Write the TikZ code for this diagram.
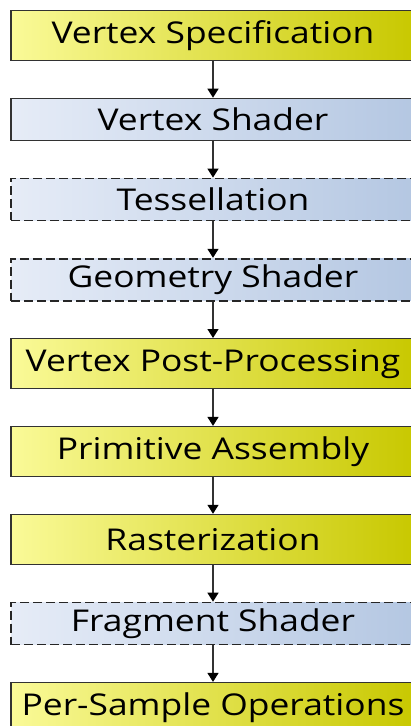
\documentclass[tikz,border=0pt]{standalone}
\usepackage{fontspec}
\setmainfont[FakeStretch=1.18]{Open Sans}
\usetikzlibrary{positioning,arrows.meta}
\definecolor{yelL}{RGB}{250,250,152}
\definecolor{yelR}{RGB}{200,200,0}
\definecolor{bluL}{RGB}{230,236,247}
\definecolor{bluR}{RGB}{180,199,226}
\definecolor{edge}{RGB}{50,50,50}

\begin{document}
\begin{tikzpicture}[x=1pt,y=1pt,
		stage/.style={draw=edge, line width=1.4pt, minimum width=404pt, inner sep=0pt,
			font=\fontsize{30}{34}\selectfont},
		fixed/.style={stage, minimum height=50pt, left color=yelL, right color=yelR},
		shader/.style={stage, minimum height=42pt, left color=bluL, right color=bluR},
		optional/.style={shader, draw=black!85, line width=1.7pt, dash pattern=on 9pt off 4pt},
		flow/.style={draw=edge, line width=1.3pt, -{Triangle[width=11pt,length=9pt,color=black]}},
		node distance=36.5pt]
		\useasboundingbox (0,0) rectangle (410,-726);
		% pipeline stages, top to bottom
		\node [fixed] (vspec) at (213,-35.5) {Vertex Specification};
		\node [shader, below=of vspec] (vshader) {Vertex Shader};
		\node [optional, below=of vshader] (tess) {Tessellation};
		\node [optional, below=of tess] (geom) {Geometry Shader};
		\node [fixed, below=of geom] (vpost) {Vertex Post-Processing};
		\node [fixed, below=of vpost] (prim) {Primitive Assembly};
		\node [fixed, below=of prim] (raster) {Rasterization};
		\node [optional, below=of raster] (frag) {Fragment Shader};
		\node [fixed, below=of frag] (persample) {Per-Sample Operations};
		% arrows between stages
		\foreach \a/\b in {vspec/vshader, vshader/tess, tess/geom, geom/vpost,
			vpost/prim, prim/raster, raster/frag, frag/persample}
			\draw [flow] (\a) -- (\b);
	\end{tikzpicture}
\end{document}
